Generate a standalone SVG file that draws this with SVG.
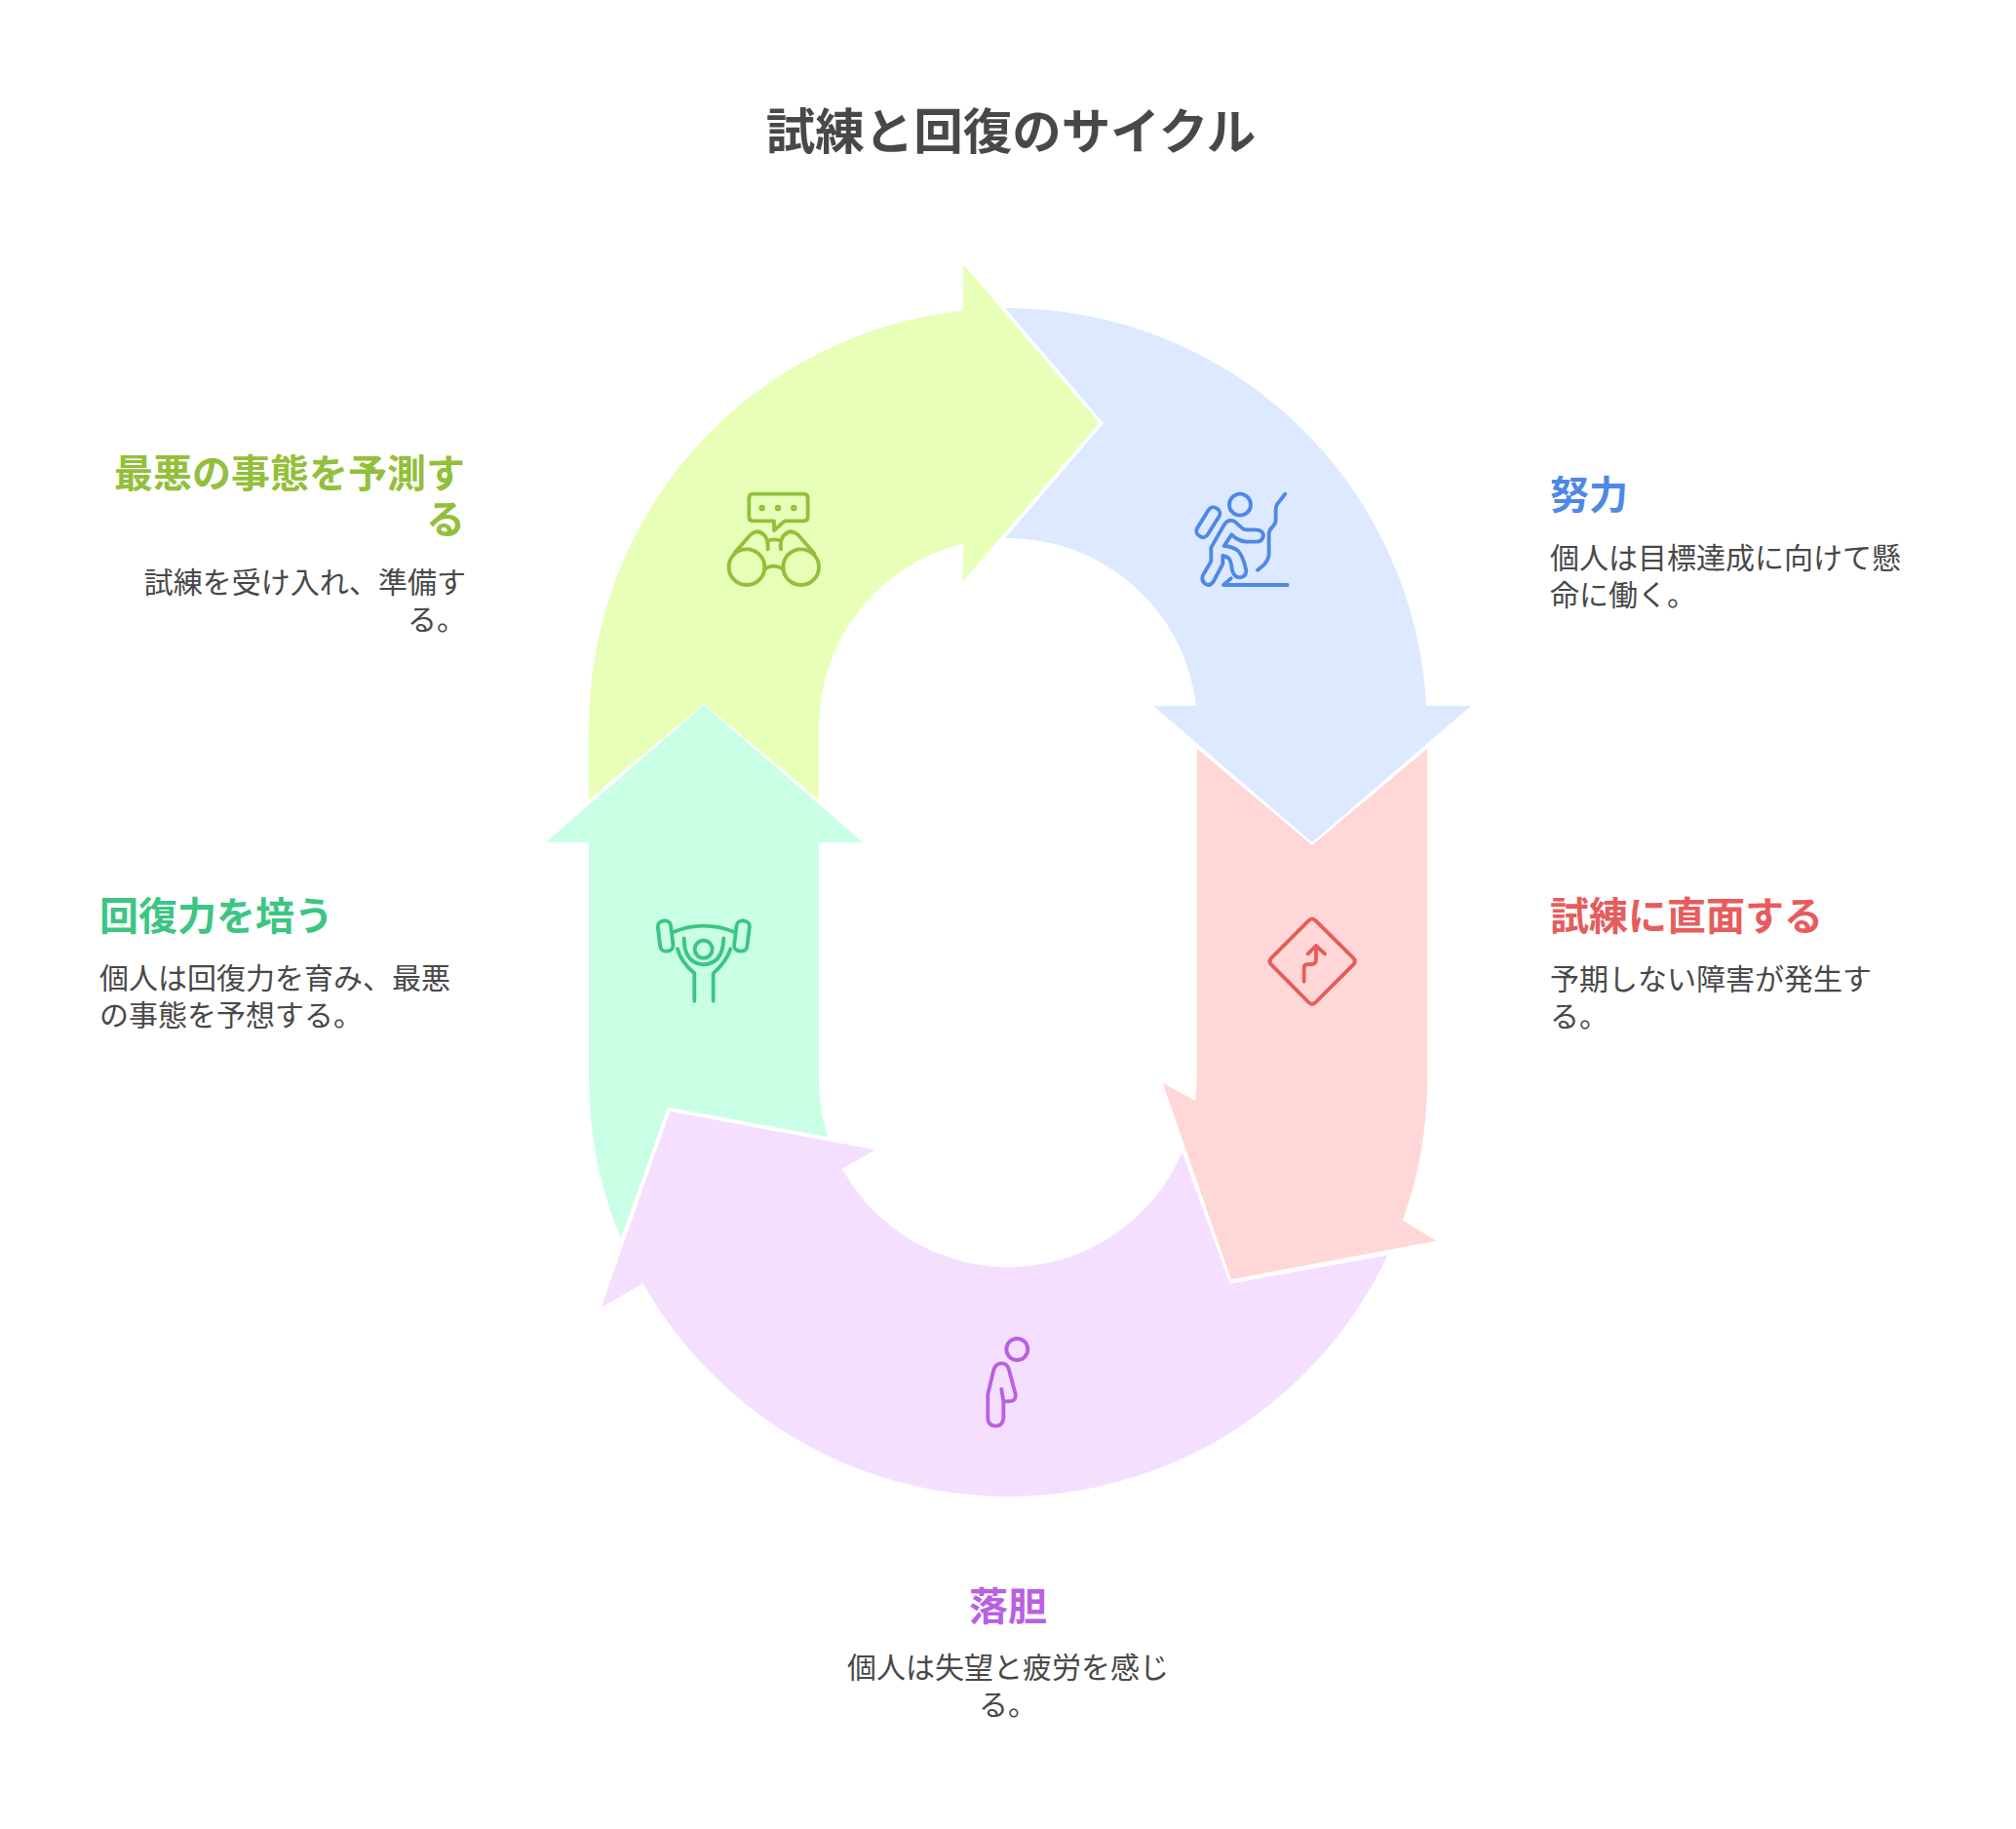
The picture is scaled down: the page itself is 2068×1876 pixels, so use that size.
<svg xmlns="http://www.w3.org/2000/svg" width="2068" height="1876" viewBox="0 0 2068 1876">
<style>
text{font-family:"Noto Sans CJK JP","Noto Sans",sans-serif;fill:#484848}
.t{font-size:50.5px;font-weight:700}
.h{font-size:40px;font-weight:700}
.b{font-size:30px}
.m{text-anchor:middle}
.e{text-anchor:end}
.i{fill:none;stroke-width:11.5;stroke-linecap:round;stroke-linejoin:round}
</style>
<rect width="2068" height="1876" fill="#ffffff"/>
<text class="t m" x="1037" y="153">試練と回復のサイクル</text>
<g id="connectors"/>
<g id="node-effort">
<path fill="#dce9ff" d="M1031 316A430 430 0 0 1 1463 724H1509L1346 864L1183 724H1227A194 194 0 0 0 1031 552L1132 434Z"/>
<g transform="translate(1210 490) scale(.3333)" class="i" stroke="#4e88e7">
<circle cx="186" cy="83" r="33"/>
<rect x="-19" y="-50" width="38" height="100" rx="17" transform="translate(88 137) rotate(32)"/>
<path d="M97 257V215L137 145Q150 125 170 135L195 157Q200 160 215 160H235Q258 162 258 178Q255 197 235 197H205Q180 195 160 175L137 210Q165 212 180 225Q195 240 205 285Q205 305 185 307Q168 307 162 285L158 262Q155 243 133 240V265L105 318Q95 335 82 328Q65 318 72 300Z"/>
<path d="M325 50L300 82Q296 88 296 100V130Q296 142 285 152Q275 160 275 175V235Q275 250 260 268L240 284"/>
<path d="M332 330H135L158 310"/>
</g>
<text class="h" x="1590" y="522" style="fill:#4e88e7">努力</text>
<text class="b" x="1590" y="583">個人は目標達成に向けて懸</text>
<text class="b" x="1590" y="621">命に働く。</text>
</g>
<g id="node-trial">
<path fill="#ffd7d7" d="M1228 768L1346 867L1464 768V1105A430 430 0 0 1 1439 1251.700L1473.300 1272.700L1262.700 1312.300L1192.700 1110.700L1226 1129A194 194 0 0 0 1228 1105Z"/>
<g transform="translate(1285 925) scale(.3333)" class="i" stroke="#e75c5c">
<path d="M172 58Q183 47 194 58L309 172Q320 183 309 194L194 309Q183 320 172 309L58 194Q47 183 58 172Z"/>
<path d="M158 245V205Q158 192 170 192H182Q195 192 195 178V135M170 160L195 135L222 160"/>
</g>
<text class="h" x="1590" y="954" style="fill:#e75c5c">試練に直面する</text>
<text class="b" x="1590" y="1015">予期しない障害が発生す</text>
<text class="b" x="1590" y="1053">る。</text>
</g>
<g id="node-despair">
<path fill="#f4dfff" d="M687.300 1140L897.700 1179.300L864 1198.700A194 194 0 0 0 1212.700 1181.700L1261.700 1316.700L1424.300 1287.300L1423.600 1287A430 430 0 0 1 659.700 1316.500L658.300 1317.300L616.700 1341Z"/>
<g transform="translate(990 1360) scale(.3333)" class="i" stroke="#b960e2">
<circle cx="160" cy="72" r="33"/>
<path d="M112 195L118 232V285Q115 308 95 308Q72 308 70 285V210L88 135Q95 115 112 115Q130 115 135 135L155 210Q158 232 135 232H118"/>
</g>
<text class="h m" x="1034" y="1662" style="fill:#b960e2">落胆</text>
<text class="b m" x="1034" y="1721">個人は失望と疲労を感じ</text>
<text class="b m" x="1034" y="1759">る。</text>
</g>
<g id="node-resilience">
<path fill="#c9ffe5" d="M722 723L885 864H840V1105A194 194 0 0 0 849.300 1166L685 1135.700L636.700 1270A430 430 0 0 1 604 1105V864H560Z"/>
<g transform="translate(660 930) scale(.3333)" class="i" stroke="#3cc583">
<rect x="-20" y="-47" width="40" height="94" rx="18" transform="translate(68 90) rotate(-7)"/>
<rect x="-20" y="-47" width="40" height="94" rx="18" transform="translate(303 90) rotate(7)"/>
<path d="M92 78Q185 40 280 78"/>
<circle cx="185" cy="131" r="27"/>
<path d="M125 97Q125 175 185 178Q245 175 247 97"/>
<path d="M105 130Q115 170 157 205V290M268 130Q255 170 215 205V290"/>
</g>
<text class="h" x="102" y="954" style="fill:#3cc583">回復力を培う</text>
<text class="b" x="102" y="1014">個人は回復力を育み、最悪</text>
<text class="b" x="102" y="1052">の事態を予想する。</text>
</g>
<g id="node-anticipate">
<path fill="#e8ffb8" d="M604 820V746A430 430 0 0 1 988 318.500V271L1127.500 434L988 596V557.500A194 194 0 0 0 840 746V820L722 722Z"/>
<g transform="translate(720 480) scale(.3333)" class="i" stroke="#93bf3a">
<path d="M158 80H313Q326 80 326 93V150Q326 163 313 163H255L222 192V163H158Q145 163 145 150V93Q145 80 158 80Z"/>
<circle cx="185" cy="123" r="4"/><circle cx="234" cy="123" r="4"/><circle cx="283" cy="123" r="4"/>
<circle cx="138" cy="305" r="55"/><circle cx="305" cy="305" r="55"/>
<path d="M192 312Q221 292 251 312"/>
<path d="M100 262L150 205Q172 185 195 210Q205 225 203 250M203 225Q222 215 243 225M345 262L295 205Q272 185 250 210Q240 225 243 250"/>
</g>
<text class="h e" x="477" y="500" style="fill:#93bf3a">最悪の事態を予測す</text>
<text class="h e" x="477" y="547" style="fill:#93bf3a">る</text>
<text class="b e" x="478" y="608">試練を受け入れ、準備す</text>
<text class="b e" x="478" y="646">る。</text>
</g>
</svg>
